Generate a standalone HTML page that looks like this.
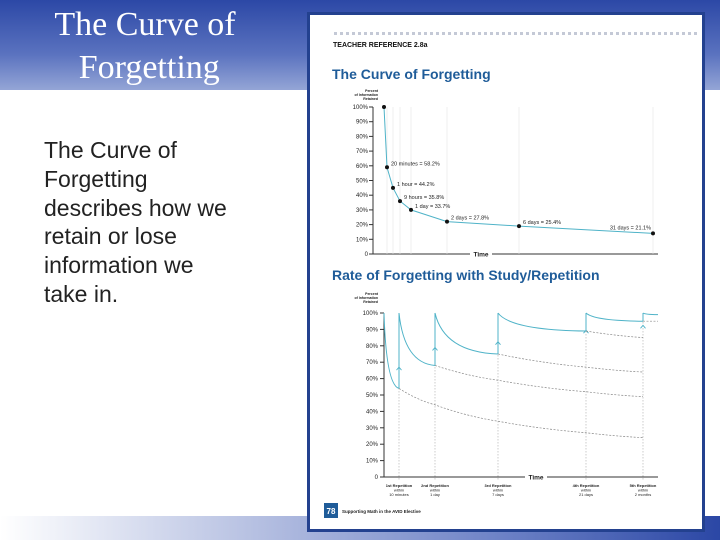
<!DOCTYPE html>
<html><head><meta charset="utf-8"><style>
html,body{margin:0;padding:0}
body{width:720px;height:540px;position:relative;overflow:hidden;background:#fff;font-family:"Liberation Sans",sans-serif}
#banner{position:absolute;left:0;top:0;width:720px;height:90px;background:linear-gradient(#2c48a6,#5a72bf 60%,#94a5d6)}
#bottom{position:absolute;left:0;top:516px;width:720px;height:24px;background:linear-gradient(90deg,#fff,#b7c1e2 35%,#6c81c6 70%,#2b47a5)}
#title{position:absolute;left:20px;top:3px;width:250px;text-align:center;color:#fff;font-family:"Liberation Serif",serif;font-size:34px;line-height:43px}
#body{position:absolute;left:44px;top:136px;white-space:nowrap;font-size:23px;line-height:28.8px;color:#222}
#doc{position:absolute;left:307px;top:12px;width:392px;height:514px;background:#fff;border:3px solid #23418f}
svg{position:absolute;left:0;top:0}
</style></head><body>
<div id="banner"></div>
<div id="bottom"></div>
<div id="title">The Curve of<br>&nbsp;Forgetting</div>
<div id="body">The Curve of<br>Forgetting<br>describes how we<br>retain or lose<br>information we<br>take in.</div>
<div id="doc"></div>
<svg id="chart" width="720" height="540"></svg>
<script>
// Top chart data
const topTimesH=[0,0.33,1,9,24,48,144,744];
const topValues=[100,59,45,36,30,22,19,14];
const topLabels=["","20 minutes = 58.2%","1 hour = 44.2%","9 hours = 35.8%","1 day = 33.7%","2 days = 27.8%","6 days = 25.4%","31 days = 21.1%"];
const yTicks=[100,90,80,70,60,50,40,30,20,10,0];
// Bottom chart data
const repTimesH=[0.33,24,168,504,2160];
const repLabels=[["1st Repetition","within","10 minutes"],["2nd Repetition","within","1 day"],["3rd Repetition","within","7 days"],["4th Repetition","within","21 days"],["5th Repetition","within","2 months"]];
const solidEnd=[54,68,75,89,95,99];
const dashFrom=[54,68,75,89,95];
const dash1=[44,59,67,85,95];
const dash2=[34,52,64];
const dash3=[27,49];
const dash4=[24];

const S=document.getElementById('chart');const NS='http://www.w3.org/2000/svg';
function mk(t,a,p){const e=document.createElementNS(NS,t);for(const k in a)e.setAttribute(k,a[k]);(p||S).appendChild(e);return e;}
function txt(x,y,s,sz,fill,anchor,w){const e=mk('text',{x:x,y:y,'font-size':sz,fill:fill,'text-anchor':anchor||'start','font-weight':w||'normal','font-family':'Liberation Sans, sans-serif'});e.textContent=s;return e;}
function pw(bx,by,v){for(let i=1;i<bx.length;i++){if(v<=bx[i]){return by[i-1]+(v-bx[i-1])/(bx[i]-bx[i-1])*(by[i]-by[i-1]);}}return by[by.length-1];}
// axis functions
const tx=h=>pw([0,0.33,1,9,24,48,144,744,900],[384,387,393,400,411,447,519,653,660],h);
const ty=v=>254-v*1.47;
const bx=h=>pw([0,0.33,24,168,504,2160,2700],[384,399,435,498,586,643,658],h);
const by=v=>477-v*1.64;
const END=2700;

// header
for(let x=334;x<700;x+=6){const r=mk('rect',{x:x,y:32,width:3,height:3,fill:'#c4c9d6'});}
let t=txt(333,47,'TEACHER REFERENCE 2.8a',7,'#111','start','bold');
t=txt(332,79,'The Curve of Forgetting',14,'#1f5c99','start','bold');
t=txt(332,280,'Rate of Forgetting with Study/Repetition',14,'#1f5c99','start','bold');

// Top chart
['Percent','of Information','Retained'].forEach((s,i)=>{const e=txt(378,92+i*4,s,3.5,'#222','end','bold');});
let a=mk('line',{x1:373,y1:ty(100),x2:373,y2:ty(0),stroke:'#333','stroke-width':1});
a=mk('line',{x1:373,y1:ty(0),x2:658,y2:ty(0),stroke:'#333','stroke-width':1});
t=mk('rect',{x:470,y:ty(0)-4,width:22,height:8,fill:'#fff'});
t=txt(481,ty(0)+2.5,'Time',6.5,'#222','middle','bold');
yTicks.forEach(v=>{const l=mk('line',{x1:369,y1:ty(v),x2:373,y2:ty(v),stroke:'#333'});
 const e=txt(368,ty(v)+2,v===0?'0':v+'%',6,'#222','end');});
topTimesH.forEach((h,i)=>{if(i===0)return;const l=mk('line',{x1:tx(h),y1:ty(100),x2:tx(h),y2:ty(0),stroke:'#e4e4e4','stroke-width':0.6});});
let d='M'+tx(topTimesH[0])+','+ty(topValues[0]);
for(let i=1;i<topTimesH.length;i++)d+=' L'+tx(topTimesH[i])+','+ty(topValues[i]);
let p=mk('path',{d:d,fill:'none',stroke:'#4fb3c8','stroke-width':1});
topTimesH.forEach((h,i)=>{const c=mk('circle',{cx:tx(h),cy:ty(topValues[i]),r:2,fill:'#111'});
 if(topLabels[i]){const last=i===topTimesH.length-1;const e=txt(last?tx(h)-2:tx(h)+4,ty(topValues[i])-(last?4:2),topLabels[i],5.5,'#222',last?'end':'start');}});

// Bottom chart
['Percent','of Information','Retained'].forEach((s,i)=>{const e=txt(378,295+i*4,s,3.5,'#222','end','bold');});
a=mk('line',{x1:384,y1:by(100),x2:384,y2:by(0),stroke:'#333'});
a=mk('line',{x1:380,y1:by(0),x2:658,y2:by(0),stroke:'#333'});
mk('rect',{x:525,y:by(0)-4,width:22,height:8,fill:'#fff'});
t=txt(536,by(0)+2.5,'Time',6.5,'#222','middle','bold');
yTicks.forEach(v=>{const l=mk('line',{x1:380,y1:by(v),x2:384,y2:by(v),stroke:'#333'});
 const e=txt(378,by(v)+2,v===0?'0':v+'%',6,'#222','end');});
repTimesH.forEach((h,i)=>{const x=bx(h);
 const l=mk('line',{x1:x,y1:by(100),x2:x,y2:by(0)+3,stroke:'#aaa','stroke-width':0.6,'stroke-dasharray':'1.5,1.5'});
 repLabels[i].forEach((s,j)=>{const e=txt(x,by(0)+10+j*4.5,s,4,'#222','middle',j===0?'bold':'normal');});});
// solid decay segments
const starts=[0].concat(repTimesH);const ends=repTimesH.concat([END]);
function decay(x0,x1,v0,v1){const dx=x1-x0;return 'M'+x0+','+by(v0)+' C'+(x0+dx*0.1)+','+by(v1+(v0-v1)*0.35)+' '+(x0+dx*0.45)+','+by(v1+(v0-v1)*0.03)+' '+x1+','+by(v1);}
starts.forEach((h,i)=>{const x0=bx(h),x1=bx(ends[i]);
 const e=mk('path',{d:decay(x0,x1,100,solidEnd[i]),fill:'none',stroke:'#4fb3c8','stroke-width':1});
 if(i<repTimesH.length){const v=mk('line',{x1:x1,y1:by(solidEnd[i]),x2:x1,y2:by(100),stroke:'#4fb3c8','stroke-width':1});
  const ym=by((solidEnd[i]+100)/2+ (solidEnd[i]<60?-10:-5));const ar=mk('path',{d:'M'+(x1-2.5)+','+(ym+3)+' L'+x1+','+ym+' L'+(x1+2.5)+','+(ym+3),fill:'none',stroke:'#4fb3c8','stroke-width':0.9});}});
// dashed continuations
const dashSeries=[dash1,dash2,dash3,dash4];
dashFrom.forEach((v0,k)=>{let pts=[[bx(repTimesH[k]),by(v0)]];let idx=k+1;
 for(let j=0;j<4&&idx<=repTimesH.length;j++){const arr=dashSeries[j];const val=arr[k];if(val===undefined)break;pts.push([bx(idx<repTimesH.length?repTimesH[idx]:END),by(val)]);idx++;}
 let dd='M'+pts[0][0]+','+pts[0][1];for(let q=1;q<pts.length;q++){const mx=(pts[q-1][0]+pts[q][0])/2;dd+=' Q'+mx+','+(pts[q-1][1]+(pts[q][1]-pts[q-1][1])*0.7)+' '+pts[q][0]+','+pts[q][1];}
 const e=mk('path',{d:dd,fill:'none',stroke:'#888','stroke-width':0.7,'stroke-dasharray':'2,1.5'});});
// footer
let r=mk('rect',{x:324,y:503,width:14,height:15,fill:'#1f5c99'});
t=txt(331,514,'78',8,'#fff','middle','bold');
t=txt(342,513,'Supporting Math in the AVID Elective',4.5,'#222','start','bold');
</script>
</body></html>
